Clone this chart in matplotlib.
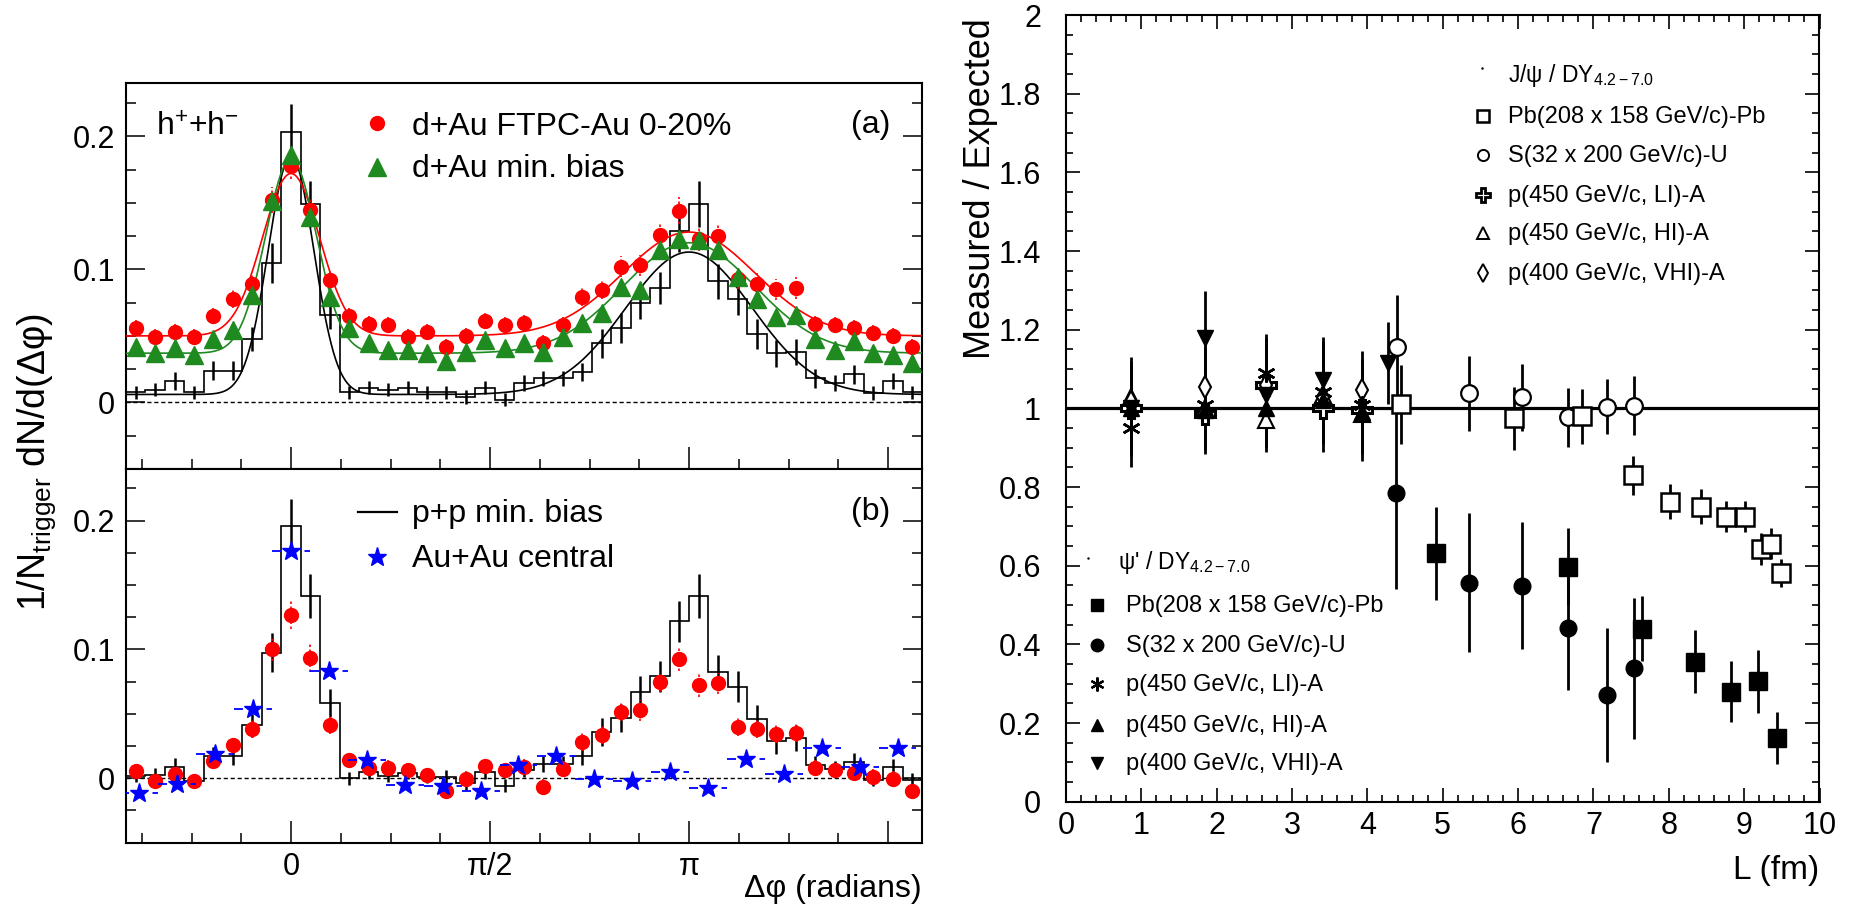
import numpy as np
import matplotlib.pyplot as plt
from matplotlib.lines import Line2D
from matplotlib.ticker import MultipleLocator, FixedLocator, FuncFormatter

plt.rcParams['font.family'] = ['Liberation Sans', 'DejaVu Sans']
plt.rcParams['mathtext.fontset'] = 'custom'
plt.rcParams['mathtext.rm'] = 'Liberation Sans'
plt.rcParams['mathtext.it'] = 'Liberation Sans:italic'
plt.rcParams['mathtext.bf'] = 'Liberation Sans:bold'

# ---------------- left: azimuthal correlations ----------------
W_PP = 2 * np.pi / 41          # bin width of p+p / d+Au histograms
W_AU = 2 * np.pi / 21          # bin width of Au+Au points
bins_pp = np.arange(-8, 33)    # bin index, 0 -> dphi = 0
bins_au = np.arange(-4, 17)

# panel (a)
pp_a = [0.0075, 0.0095, 0.016, 0.0075, 0.024, 0.024, 0.048, 0.105, 0.203, 0.149,
        0.066, 0.0075, 0.011, 0.0095, 0.011, 0.0075, 0.0075, 0.004, 0.011, 0.002,
        0.0145, 0.018, 0.018, 0.023, 0.0445, 0.056, 0.0745, 0.086, 0.129, 0.149,
        0.091, 0.078, 0.0515, 0.037, 0.038, 0.018, 0.0145, 0.021, 0.007, 0.016, 0.0075]
pp_err = [0.005, 0.005, 0.007, 0.005, 0.007, 0.007, 0.009, 0.015, 0.021, 0.017,
          0.011, 0.005, 0.005, 0.005, 0.005, 0.005, 0.005, 0.005, 0.005, 0.005,
          0.006, 0.006, 0.006, 0.007, 0.011, 0.011, 0.012, 0.012, 0.016, 0.017,
          0.013, 0.012, 0.011, 0.010, 0.010, 0.007, 0.006, 0.007, 0.005, 0.006, 0.005]
dau_cent_a = [0.056, 0.049, 0.053, 0.049, 0.065, 0.078, 0.089, 0.152, 0.178, 0.1445,
              0.092, 0.065, 0.059, 0.058, 0.0495, 0.053, 0.042, 0.050, 0.061, 0.058,
              0.0595, 0.0445, 0.058, 0.0795, 0.0845, 0.102, 0.103, 0.126, 0.144, 0.123,
              0.125, 0.093, 0.089, 0.085, 0.086, 0.059, 0.058, 0.056, 0.052, 0.050, 0.042]
dau_cent_a_err = [0.006, 0.006, 0.006, 0.006, 0.006, 0.007, 0.007, 0.010, 0.010, 0.009,
                  0.007, 0.006, 0.006, 0.006, 0.006, 0.006, 0.006, 0.006, 0.006, 0.006,
                  0.006, 0.006, 0.006, 0.007, 0.007, 0.008, 0.008, 0.009, 0.010, 0.009,
                  0.009, 0.008, 0.008, 0.008, 0.008, 0.006, 0.006, 0.006, 0.006, 0.006, 0.006]
dau_mb_a = [0.042, 0.037, 0.041, 0.036, 0.048, 0.0545, 0.081, 0.151, 0.186, 0.1395,
            0.0795, 0.056, 0.0445, 0.0395, 0.0395, 0.037, 0.031, 0.038, 0.047, 0.041,
            0.0445, 0.038, 0.0495, 0.0595, 0.067, 0.087, 0.0845, 0.1145, 0.123, 0.122,
            0.1145, 0.0945, 0.078, 0.0645, 0.066, 0.048, 0.0395, 0.046, 0.037, 0.036, 0.0295]

# gaussian fits: baseline, near amp, near sigma, away amp, away sigma
fit_cent = [0.050, 0.122, 0.225, 0.078, 0.52]
fit_mb = [0.037, 0.146, 0.200, 0.083, 0.52]
fit_pp = [0.006, 0.179, 0.180, 0.107, 0.50]

# panel (b)
pp_b = [0.002, 0.0026, 0.0086, -0.002, 0.017, 0.017, 0.041, 0.0975, 0.1956, 0.1416,
        0.0584, 0.0, 0.0044, 0.002, 0.004, 0.001, 0.001, -0.004, 0.0044, -0.006,
        0.0065, 0.011, 0.011, 0.017, 0.036, 0.0468, 0.067, 0.079, 0.1216, 0.1416,
        0.0826, 0.0709, 0.046, 0.0286, 0.031, 0.0104, 0.007, 0.0122, -0.0013, 0.0086, -0.0013]
dau_cent_b = [0.0052, -0.0026, 0.003, -0.0026, 0.0135, 0.026, 0.038, 0.100, 0.127, 0.093,
              0.041, 0.0143, 0.0078, 0.0078, 0.006, 0.0026, -0.0104, -0.0008, 0.0096, 0.006,
              0.0086, -0.007, 0.007, 0.0278, 0.0332, 0.0512, 0.0525, 0.0745, 0.0922, 0.072,
              0.0735, 0.0397, 0.038, 0.0345, 0.035, 0.0078, 0.0065, 0.0039, 0.0008, -0.0008, -0.0104]
dau_cent_b_err = [0.006, 0.006, 0.006, 0.006, 0.006, 0.006, 0.007, 0.009, 0.011, 0.011,
                  0.007, 0.006, 0.006, 0.006, 0.006, 0.006, 0.006, 0.006, 0.006, 0.006,
                  0.006, 0.006, 0.006, 0.007, 0.007, 0.007, 0.008, 0.008, 0.009, 0.009,
                  0.008, 0.007, 0.007, 0.007, 0.007, 0.006, 0.006, 0.006, 0.006, 0.006, 0.006]
auau_cent_b = [-0.0117, -0.0044, 0.019, 0.0538, 0.1766, 0.0831, 0.0143, -0.0052, -0.006,
               -0.0104, 0.0104, 0.0174, -0.0008, -0.0026, 0.0044, -0.0078, 0.0148, 0.0034,
               0.0234, 0.0086, 0.0234]

# ---------------- right: J/psi and psi' suppression ----------------
jpsi_pbpb_L = [4.44, 5.94, 6.85, 7.52, 8.02, 8.43, 8.76, 9.01, 9.23, 9.36, 9.49]
jpsi_pbpb_R = [1.01, 0.975, 0.98, 0.83, 0.763, 0.75, 0.725, 0.725, 0.642, 0.656, 0.581]
jpsi_pbpb_E = [0.10, 0.08, 0.07, 0.05, 0.045, 0.045, 0.04, 0.04, 0.04, 0.04, 0.035]
jpsi_su_L = [4.39, 5.35, 6.05, 6.66, 7.18, 7.54]
jpsi_su_R = [1.157, 1.038, 1.028, 0.977, 1.004, 1.006]
jpsi_su_E = [0.13, 0.095, 0.085, 0.075, 0.07, 0.075]
pA_L = [0.86, 1.85, 2.66, 3.41, 3.93]
jpsi_li_R = [1.0, 0.985, 1.06, 1.0, 0.995]
jpsi_li_E = [0.12, 0.10, 0.12, 0.09, 0.13]
jpsi_hi_R = [1.03, 1.0, 0.97, 1.035, 0.985]
jpsi_hi_E = [0.10, 0.10, 0.08, 0.10, 0.10]
jpsi_vhi_R = [1.015, 1.055, 1.06, 1.03, 1.047]
jpsi_vhi_E = [0.10, 0.10, 0.12, 0.14, 0.10]

psi2_pbpb_L = [4.91, 6.66, 7.65, 8.35, 8.83, 9.18, 9.44]
psi2_pbpb_R = [0.631, 0.597, 0.44, 0.356, 0.28, 0.306, 0.163]
psi2_pbpb_E = [0.117, 0.098, 0.083, 0.08, 0.077, 0.08, 0.066]
psi2_su_L = [4.38, 5.35, 6.05, 6.66, 7.18, 7.54]
psi2_su_R = [0.784, 0.557, 0.549, 0.441, 0.271, 0.339]
psi2_su_E = [0.242, 0.177, 0.162, 0.156, 0.17, 0.18]
psi2_li_R = [0.95, 1.008, 1.089, 1.042, 1.008]
psi2_li_E = [0.10, 0.10, 0.10, 0.10, 0.10]
psi2_hi_R = [1.0, 0.995, 1.0, 1.02, 0.99]
psi2_hi_E = [0.10, 0.10, 0.10, 0.10, 0.10]
psi2_vhi_L = [0.86, 1.85, 2.66, 3.41, 4.28]
psi2_vhi_R = [1.0, 1.178, 1.034, 1.072, 1.115]
psi2_vhi_E = [0.10, 0.12, 0.12, 0.11, 0.105]

FW, FH = 1858, 905
fig = plt.figure(figsize=(FW / 100, FH / 100), dpi=100)


def box(x0, y0, x1, y1):
    # pixel box (origin top-left) -> figure rect
    return [x0 / FW, 1 - y1 / FH, (x1 - x0) / FW, (y1 - y0) / FH]


def fxy(x, y):
    return x / FW, 1 - y / FH


def two_peaks(x, p):
    base, a_n, s_n, a_a, s_a = p
    return (base + a_n * np.exp(-x ** 2 / (2 * s_n ** 2))
            + a_a * np.exp(-(x - np.pi) ** 2 / (2 * s_a ** 2)))


ax_a = fig.add_axes(box(126, 83, 922, 469))
ax_b = fig.add_axes(box(126, 469, 922, 842.5))
ax_r = fig.add_axes(box(1066, 15, 1819.5, 801.7))

x_pp = bins_pp * W_PP
x_au = bins_au * W_AU
edges = np.append(x_pp - W_PP / 2, x_pp[-1] + W_PP / 2)
xs = np.linspace(-8.5 * W_PP, 32.5 * W_PP, 800)


def style_left(ax, labels):
    ax.set_xlim(-8.5 * W_PP, 32.5 * W_PP)
    ax.set_ylim(-0.05, 0.24)
    ax.axhline(0, color='k', ls=(0, (3, 2)), lw=1, zorder=1)
    ax.xaxis.set_major_locator(FixedLocator([0, np.pi / 2, np.pi, 1.5 * np.pi]))
    ax.xaxis.set_minor_locator(FixedLocator(np.arange(-3, 13) * np.pi / 8))
    ax.set_xticklabels(['0', 'π/2', 'π', ''] if labels else [])
    ax.yaxis.set_major_locator(FixedLocator([0, 0.1, 0.2]))
    ax.yaxis.set_minor_locator(MultipleLocator(0.025))
    ax.yaxis.set_major_formatter(FuncFormatter(lambda v, p: f'{v:g}'))
    ax.tick_params(which='both', direction='in', top=False, right=True,
                   width=1.1, labelsize=22)
    ax.tick_params(axis='y', which='major', length=14, pad=8)
    ax.tick_params(axis='y', which='minor', length=7)
    ax.tick_params(axis='x', which='major', length=16, pad=7)
    ax.tick_params(axis='x', which='minor', length=7)
    for s in ax.spines.values():
        s.set_linewidth(1.5)


# panel (a)
ax_a.stairs(pp_a, edges, color='k', lw=1.2, baseline=None, zorder=2)
ax_a.errorbar(x_pp, pp_a, yerr=pp_err, fmt='none', ecolor='k', elinewidth=1.8, zorder=2)
ax_a.plot(xs, two_peaks(xs, fit_pp), color='k', lw=1.2, zorder=3)
ax_a.plot(xs, two_peaks(xs, fit_cent), color='red', lw=1.2, zorder=3)
ax_a.plot(xs, two_peaks(xs, fit_mb), color='#1f8a1f', lw=1.2, zorder=3)
eb = ax_a.errorbar(x_pp, dau_cent_a, yerr=dau_cent_a_err, fmt='o', color='red',
                   ms=10, elinewidth=1.2, zorder=4)
eb.lines[2][0].set_linestyle((0, (1.5, 1.5)))
ax_a.plot(x_pp, dau_mb_a, ls='none', marker='^', color='#1f8a1f', ms=13, zorder=5)
style_left(ax_a, False)

# panel (b)
ax_b.stairs(pp_b, edges, color='k', lw=1.2, baseline=None, zorder=2)
ax_b.errorbar(x_pp, pp_b, yerr=pp_err, fmt='none', ecolor='k', elinewidth=1.8, zorder=2)
eb = ax_b.errorbar(x_pp, dau_cent_b, yerr=dau_cent_b_err, fmt='o', color='red',
                   ms=10, elinewidth=1.2, zorder=4)
eb.lines[2][0].set_linestyle((0, (1.5, 1.5)))
eb = ax_b.errorbar(x_au, auau_cent_b, xerr=W_AU / 2, fmt='*', color='blue',
                   ms=14, elinewidth=1.3, zorder=5)
eb.lines[2][0].set_linestyle((0, (5, 4)))
style_left(ax_b, True)

# left texts and legends
fig.text(*fxy(156, 136), r'h$^{+}$+h$^{-}$', fontsize=23, va='baseline')
fig.text(*fxy(890, 133), '(a)', fontsize=23, ha='right', va='baseline')
fig.add_artist(Line2D([376.7 / FW], [1 - 123.3 / FH], marker='o', color='red', ms=10,
                      ls='none', transform=fig.transFigure))
fig.text(*fxy(412, 135), 'd+Au FTPC-Au 0-20%', fontsize=23, va='baseline')
fig.add_artist(Line2D([376.7 / FW], [1 - 167.3 / FH], marker='^', color='#1f8a1f', ms=13,
                      ls='none', transform=fig.transFigure))
fig.text(*fxy(412, 177), 'd+Au min. bias', fontsize=23, va='baseline')

fig.add_artist(Line2D([358 / FW, 397 / FW], [1 - 511.7 / FH] * 2, color='k', lw=1.6,
                      transform=fig.transFigure))
fig.text(*fxy(412, 521.7), 'p+p min. bias', fontsize=23, va='baseline')
fig.text(*fxy(890, 520), '(b)', fontsize=23, ha='right', va='baseline')
fig.add_artist(Line2D([376.7 / FW], [1 - 557.3 / FH], marker='*', color='blue', ms=14,
                      ls='none', transform=fig.transFigure))
fig.text(*fxy(412, 567.3), 'Au+Au central', fontsize=23, va='baseline')

fig.text(*fxy(922, 889), 'Δφ (radians)', fontsize=23, ha='right', va='center')
fig.text(*fxy(37, 462), r'1/N$_{\mathrm{trigger}}$ dN/d(Δφ)', fontsize=27,
         rotation=90, ha='center', va='center')

# ---------------- right panel ----------------
ASTER = (6, 2, 0)
ax_r.axhline(1, color='k', lw=2.3, zorder=1)
ek = dict(ecolor='k', elinewidth=2, capsize=0, zorder=3)
ax_r.errorbar(pA_L, jpsi_li_R, yerr=jpsi_li_E, fmt='P', mfc='white', mec='k', ms=14, mew=2.2, **ek)
ax_r.errorbar(pA_L, jpsi_hi_R, yerr=jpsi_hi_E, fmt='^', mfc='white', mec='k', ms=12, mew=1.5, **ek)
ax_r.errorbar(pA_L, jpsi_vhi_R, yerr=jpsi_vhi_E, fmt='d', mfc='white', mec='k', ms=11, mew=1.5, **ek)
ax_r.errorbar(pA_L, psi2_li_R, yerr=psi2_li_E, fmt='none', **ek)
ax_r.plot(pA_L, psi2_li_R, ls='none', marker=ASTER, color='k', ms=13, mew=1.8, zorder=4)
ax_r.errorbar(pA_L, psi2_hi_R, yerr=psi2_hi_E, fmt='^', color='k', ms=12, **ek)
ax_r.errorbar(psi2_vhi_L, psi2_vhi_R, yerr=psi2_vhi_E, fmt='v', color='k', ms=12, **ek)
ax_r.errorbar(psi2_pbpb_L, psi2_pbpb_R, yerr=psi2_pbpb_E, fmt='s', color='k', ms=13, **ek)
ax_r.errorbar(psi2_su_L, psi2_su_R, yerr=psi2_su_E, fmt='o', color='k', ms=12, **ek)
ax_r.errorbar(jpsi_su_L, jpsi_su_R, yerr=jpsi_su_E, fmt='o', mfc='white', mec='k', ms=12, mew=1.6, **ek)
ax_r.errorbar(jpsi_pbpb_L, jpsi_pbpb_R, yerr=jpsi_pbpb_E, fmt='s', mfc='white', mec='k', ms=13, mew=1.8, **ek)

ax_r.set_xlim(0, 10)
ax_r.set_ylim(0, 2)
ax_r.xaxis.set_major_locator(MultipleLocator(1))
ax_r.xaxis.set_minor_locator(MultipleLocator(0.2))
ax_r.yaxis.set_major_locator(MultipleLocator(0.2))
ax_r.yaxis.set_minor_locator(MultipleLocator(0.05))
ax_r.xaxis.set_major_formatter(FuncFormatter(lambda v, p: f'{v:g}'))
ax_r.yaxis.set_major_formatter(FuncFormatter(lambda v, p: f'{round(v, 1):g}'))
ax_r.tick_params(which='both', direction='in', top=True, right=True, width=1.2, labelsize=22)
ax_r.tick_params(which='major', length=10)
ax_r.tick_params(which='minor', length=5)
ax_r.tick_params(axis='y', pad=18)
ax_r.tick_params(axis='x', pad=7)
for s in ax_r.spines.values():
    s.set_linewidth(1.5)

fig.text(*fxy(1819, 870), 'L (fm)', fontsize=24, ha='right', va='center')
fig.text(*fxy(980, 18), 'Measured / Expected', fontsize=26, rotation=90, ha='center', va='top')

# upper legend (J/psi)
fig.add_artist(Line2D([1482 / FW], [1 - 68 / FH], marker='.', color='k', ms=1.5,
                      ls='none', transform=fig.transFigure))
fig.text(*fxy(1508, 82), r'J/ψ / DY$_{\mathrm{4.2-7.0}}$', fontsize=16.5, va='baseline')
up_entries = [
    (dict(marker='s', mfc='white', mec='k', ms=8, mew=1.8), 116, 'Pb(208 x 158 GeV/c)-Pb'),
    (dict(marker='o', mfc='white', mec='k', ms=8, mew=1.4), 155, 'S(32 x 200 GeV/c)-U'),
    (dict(marker='P', mfc='white', mec='k', ms=10, mew=2.0), 195, 'p(450 GeV/c, LI)-A'),
    (dict(marker='^', mfc='white', mec='k', ms=9, mew=1.4), 233.3, 'p(450 GeV/c, HI)-A'),
    (dict(marker='d', mfc='white', mec='k', ms=9, mew=1.4), 273.3, 'p(400 GeV/c, VHI)-A'),
]
for mk, yy, label in up_entries:
    fig.add_artist(Line2D([1483 / FW], [1 - yy / FH], ls='none', transform=fig.transFigure, **mk))
    fig.text(*fxy(1508, yy + 7), label, fontsize=17, va='baseline')

# lower legend (psi')
fig.add_artist(Line2D([1088 / FW], [1 - 558 / FH], marker='.', color='k', ms=1.5,
                      ls='none', transform=fig.transFigure))
fig.text(*fxy(1118, 569), r"ψ' / DY$_{\mathrm{4.2-7.0}}$", fontsize=16.5, va='baseline')
low_entries = [
    (dict(marker='s', color='k', ms=9), 605, 'Pb(208 x 158 GeV/c)-Pb'),
    (dict(marker='o', color='k', ms=9), 645, 'S(32 x 200 GeV/c)-U'),
    (dict(marker=ASTER, color='k', ms=10, mew=1.6), 684.3, 'p(450 GeV/c, LI)-A'),
    (dict(marker='^', color='k', ms=9), 725, 'p(450 GeV/c, HI)-A'),
    (dict(marker='v', color='k', ms=9), 763.3, 'p(400 GeV/c, VHI)-A'),
]
for mk, yy, label in low_entries:
    fig.add_artist(Line2D([1096.7 / FW], [1 - yy / FH], ls='none', transform=fig.transFigure, **mk))
    fig.text(*fxy(1125.7, yy + 7), label, fontsize=17, va='baseline')

fig.savefig('out.png', dpi=100)
